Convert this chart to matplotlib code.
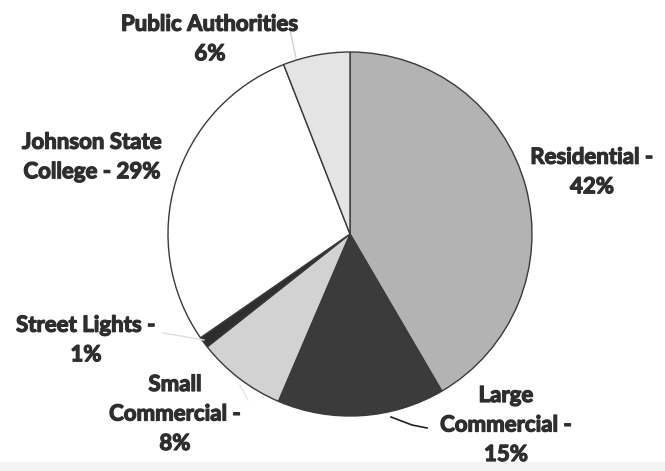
import matplotlib.pyplot as plt
import matplotlib.patheffects as pe

# electricity use by customer class
labels = ["Residential", "Large Commercial", "Small Commercial",
          "Street Lights", "Johnson State College", "Public Authorities"]
shares = [42, 15, 8, 1, 29, 6]
label_text = ["Residential -\n42%", "Large\nCommercial -\n15%", "Small\nCommercial -\n8%",
              "Street Lights -\n1%", "Johnson State\nCollege - 29%", "Public Authorities\n6%"]
colors = ["#b3b3b3", "#3b3b3b", "#d2d2d2", "#2e2e2e", "#ffffff", "#e4e4e4"]

W, H = 665, 471
fig = plt.figure(figsize=(W / 100, H / 100), dpi=100)
ax = fig.add_axes([0, 0, 1, 1])

cx, cy, r = 350, H - 234, 182
ax.pie(shares, colors=colors, startangle=90, counterclock=False,
       center=(cx, cy), radius=r,
       wedgeprops=dict(edgecolor="#3a3a3a", linewidth=1.0))
ax.set_xlim(0, W)
ax.set_ylim(0, H)
ax.set_aspect("equal")
ax.axis("off")

fnt = dict(fontsize=16, fontweight="bold", color="#2e2e2e", family="Lato",
           ha="center", va="center", linespacing=1.5,
           path_effects=[pe.withStroke(linewidth=0.9, foreground="#2e2e2e")])

# label spots (pixels from top-left)
spots = [(592, 172), (506, 425), (175, 414), (86, 340), (92, 157), (210, 39)]
for txt, (x, y) in zip(label_text, spots):
    ax.text(x, H - y, txt, **fnt)

# leader lines
ax.plot([391, 412, 427], [H - 417, H - 425, H - 428], color="#222222", lw=1.2)
ax.plot([163, 204], [H - 333, H - 340], color="#dddddd", lw=1.0)
ax.plot([290, 296], [H - 30, H - 58], color="#d0d0d0", lw=1.0)
ax.plot([240, 248], [H - 385, H - 400], color="#e6e6e6", lw=1.0)

# pale band along the bottom edge
ax.axhspan(0, H - 462, color="#f4f4f4", zorder=0)

fig.savefig("out.png", dpi=100)
